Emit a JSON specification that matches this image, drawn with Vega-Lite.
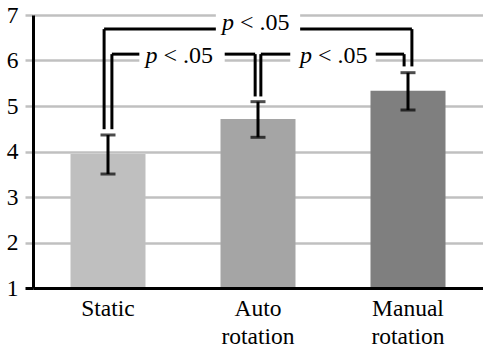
{
  "$schema": "https://vega.github.io/schema/vega-lite/v6.json",
  "width": 450,
  "height": 273,
  "autosize": {"type": "none"},
  "padding": {"left": 33, "top": 15, "right": 0, "bottom": 60},
  "background": "white",
  "config": {"view": {"stroke": null}, "font": "Liberation Serif"},
  "datasets": {
    "bars": [
      {"cond": "Static", "mean": 3.945, "lo": 3.505, "hi": 4.363},
      {"cond": "Auto rotation", "mean": 4.714, "lo": 4.312, "hi": 5.095},
      {"cond": "Manual rotation", "mean": 5.336, "lo": 4.912, "hi": 5.732}
    ],
    "segs": [
      {"x1": -0.026, "x2": -0.026, "y1": 6.69, "y2": 4.49},
      {"x1": -0.026, "x2": 0.719, "y1": 6.69, "y2": 6.69},
      {"x1": 1.281, "x2": 2.026, "y1": 6.69, "y2": 6.69},
      {"x1": 2.026, "x2": 2.026, "y1": 6.69, "y2": 5.87},
      {"x1": 0.026, "x2": 0.026, "y1": 6.14, "y2": 4.49},
      {"x1": 0.026, "x2": 0.209, "y1": 6.14, "y2": 6.14},
      {"x1": 0.778, "x2": 0.981, "y1": 6.14, "y2": 6.14},
      {"x1": 0.981, "x2": 0.981, "y1": 6.14, "y2": 5.21},
      {"x1": 1.019, "x2": 1.019, "y1": 6.14, "y2": 5.21},
      {"x1": 1.019, "x2": 1.215, "y1": 6.14, "y2": 6.14},
      {"x1": 1.785, "x2": 1.974, "y1": 6.14, "y2": 6.14},
      {"x1": 1.974, "x2": 1.974, "y1": 6.14, "y2": 5.87}
    ],
    "boxes": [
      {"x1": 0.719, "x2": 1.281, "y1": 6.55, "y2": 7.04},
      {"x1": 0.209, "x2": 0.778, "y1": 5.88, "y2": 6.36},
      {"x1": 1.215, "x2": 1.785, "y1": 5.88, "y2": 6.36}
    ],
    "labels": [
      {"x": 0.84, "y": 6.67, "sym": "p", "stat": "< .05"},
      {"x": 0.33, "y": 5.94, "sym": "p", "stat": "< .05"},
      {"x": 1.36, "y": 5.94, "sym": "p", "stat": "< .05"}
    ]
  },
  "resolve": {"scale": {"x": "independent"}},
  "layer": [
    {
      "data": {"name": "bars"},
      "encoding": {
        "x": {
          "field": "cond",
          "type": "nominal",
          "sort": ["Static", "Auto rotation", "Manual rotation"],
          "scale": {"paddingInner": 0.5, "paddingOuter": 0.25},
          "axis": {
            "title": null,
            "labelAngle": 0,
            "labelExpr": "split(datum.label, ' ')",
            "labelFont": "Liberation Serif",
            "labelFontSize": 23.5,
            "labelColor": "black",
            "labelLineHeight": 28,
            "labelPadding": 8,
            "ticks": false,
            "tickSize": 0,
            "domainColor": "black",
            "domainWidth": 3,
            "zindex": 1
          }
        }
      },
      "layer": [
        {
          "mark": {"type": "bar"},
          "encoding": {
            "y": {
              "field": "mean",
              "type": "quantitative",
              "scale": {"domain": [1, 7], "nice": false, "zero": false},
              "axis": {
                "title": null,
                "values": [1, 2, 3, 4, 5, 6, 7],
                "labelFont": "Liberation Serif",
                "labelFontSize": 23.5,
                "labelColor": "black",
                "labelPadding": 7,
                "tickSize": 8,
                "tickColor": {"condition": {"test": "datum.value === 1", "value": "black"}, "value": "#c0c0c0"},
                "tickWidth": {"condition": {"test": "datum.value === 1", "value": 3}, "value": 2.5},
                "grid": true,
                "gridColor": "#c0c0c0",
                "gridWidth": 2.5,
                "domainColor": "black",
                "domainWidth": 3
              }
            },
            "y2": {"datum": 1},
            "color": {
              "field": "cond",
              "type": "nominal",
              "scale": {"domain": ["Static", "Auto rotation", "Manual rotation"], "range": ["#bfbfbf", "#a5a5a5", "#7f7f7f"]},
              "legend": null
            }
          }
        },
        {
          "mark": {"type": "rule", "color": "black", "strokeWidth": 3},
          "encoding": {
            "y": {"field": "lo", "type": "quantitative"},
            "y2": {"field": "hi"}
          }
        },
        {
          "mark": {"type": "tick", "color": "black", "size": 15, "thickness": 3},
          "encoding": {"y": {"field": "lo", "type": "quantitative"}}
        },
        {
          "mark": {"type": "tick", "color": "black", "size": 15, "thickness": 3},
          "encoding": {"y": {"field": "hi", "type": "quantitative"}}
        }
      ]
    },
    {
      "layer": [
        {
          "data": {"name": "boxes"},
          "mark": {"type": "rect", "color": "white"},
          "encoding": {
            "x": {"field": "x1", "type": "quantitative", "scale": {"domain": [-0.5, 2.5], "nice": false, "zero": false}, "axis": null},
            "x2": {"field": "x2"},
            "y": {"field": "y1", "type": "quantitative"},
            "y2": {"field": "y2"}
          }
        },
        {
          "data": {"name": "segs"},
          "mark": {"type": "rule", "color": "black", "strokeWidth": 3},
          "encoding": {
            "x": {"field": "x1", "type": "quantitative", "scale": {"domain": [-0.5, 2.5], "nice": false, "zero": false}, "axis": null},
            "x2": {"field": "x2"},
            "y": {"field": "y1", "type": "quantitative"},
            "y2": {"field": "y2"}
          }
        },
        {
          "data": {"name": "labels"},
          "mark": {"type": "text", "font": "Liberation Serif", "fontSize": 24, "fontStyle": "italic", "align": "right", "baseline": "alphabetic", "color": "black"},
          "encoding": {
            "x": {"field": "x", "type": "quantitative", "scale": {"domain": [-0.5, 2.5], "nice": false, "zero": false}, "axis": null},
            "y": {"field": "y", "type": "quantitative"},
            "text": {"field": "sym"}
          }
        },
        {
          "data": {"name": "labels"},
          "mark": {"type": "text", "font": "Liberation Serif", "fontSize": 24, "align": "left", "baseline": "alphabetic", "dx": 6, "color": "black"},
          "encoding": {
            "x": {"field": "x", "type": "quantitative", "scale": {"domain": [-0.5, 2.5], "nice": false, "zero": false}, "axis": null},
            "y": {"field": "y", "type": "quantitative"},
            "text": {"field": "stat"}
          }
        }
      ]
    }
  ]
}
